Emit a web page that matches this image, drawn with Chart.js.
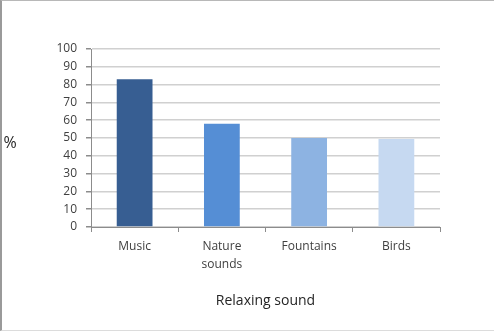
<!DOCTYPE html>
<html><head><meta charset="utf-8">
<script src="https://cdn.jsdelivr.net/npm/chart.js@4"></script>
<style>
html,body{margin:0;padding:0;background:#fff;}
#wrap{position:relative;width:494px;height:331px;}
#frame{position:absolute;left:0;top:0;border-left:2px solid #9a9a9a;border-top:1px solid #b8b8b8;border-bottom:1px solid #dcdcdc;pointer-events:none;box-sizing:border-box;width:494px;height:331px;}
</style></head>
<body><div id="wrap"><canvas id="c" width="494" height="331"></canvas><div id="frame"></div></div>
<script>
const categories = [["Music"], ["Nature", "sounds"], ["Fountains"], ["Birds"]];
const values = [83, 58, 50, 49.5];
const barColors = ["#375E92", "#558ED5", "#8DB3E2", "#C6D9F1"];
const yTicks = [0, 10, 20, 30, 40, 50, 60, 70, 80, 90, 100];
const xTitle = "Relaxing sound";
const yTitle = "%";

const FONT = "'Open Sans', sans-serif";
const yTitlePlugin = {
  id: 'yTitle',
  afterDraw(chart) {
    const ctx = chart.ctx;
    ctx.save();
    ctx.font = "16px " + FONT;
    ctx.fillStyle = "#262626";
    ctx.textAlign = "center";
    ctx.textBaseline = "middle";
    ctx.fillText(yTitle, 10, 143);
    ctx.restore();
  }
};

new Chart(document.getElementById('c'), {
  type: 'bar',
  data: {
    labels: categories,
    datasets: [{ data: values, backgroundColor: barColors, borderWidth: 0,
      categoryPercentage: 1, barPercentage: 0.41 }]
  },
  plugins: [yTitlePlugin],
  options: {
    responsive: false, animation: false,
    layout: { padding: { left: 0, right: 54, top: 49, bottom: 0 } },
    plugins: { legend: { display: false }, tooltip: { enabled: false } },
    scales: {
      x: {
        grid: { offset: true, drawOnChartArea: false, drawTicks: true, tickLength: 5, tickColor: '#8c8c8c' },
        border: { color: '#8c8c8c', width: 1 },
        ticks: { color: '#404040', font: { family: FONT, size: 12, lineHeight: 1.5 }, padding: 6, maxRotation: 0 },
        title: { display: true, text: xTitle, color: '#262626', font: { family: FONT, size: 14 }, padding: { top: 0, bottom: 22 } },
        afterFit(s) { s.height = 104; }
      },
      y: {
        min: 0, max: 100,
        afterBuildTicks(s) { s.ticks = yTicks.map(v => ({ value: v })); },
        grid: { color: '#d0d0d0', lineWidth: 1.5, drawTicks: true, tickLength: 5, tickColor: '#8c8c8c' },
        border: { color: '#8c8c8c', width: 1 },
        ticks: { color: '#404040', font: { family: FONT, size: 12 }, padding: 9 },
        afterFit(s) { s.width = 91; }
      }
    }
  }
});
</script></body></html>
